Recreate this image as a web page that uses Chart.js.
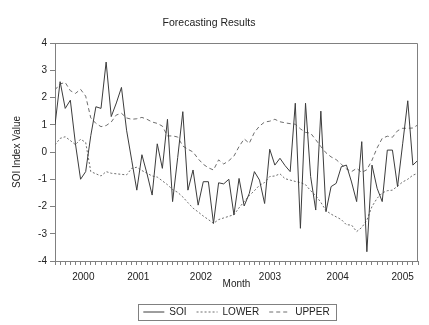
<!DOCTYPE html>
<html><head><meta charset="utf-8">
<script src="https://cdn.jsdelivr.net/npm/chart.js@4/dist/chart.umd.min.js"></script>
<style>html,body{margin:0;padding:0;background:#fff;}canvas{display:block;}</style>
</head><body>
<canvas id="c" width="429" height="325"></canvas>
<script>
// Monthly observations (index 0 = first month shown)
const soi = [1.0, 2.58, 1.6, 1.9, 0.3, -1.0, -0.72, 0.6, 1.66, 1.6,
  3.3, 1.3, 1.8, 2.37, 0.8, -0.3, -1.4, -0.1, -0.8, -1.58,
  0.3, -0.6, 1.2, -1.82, -0.2, 1.48, -1.4, -0.66, -1.95, -1.09,
  -1.09, -2.62, -1.13, -1.17, -1.0, -2.31, -0.97, -1.98, -1.52, -0.72,
  -1.03, -1.89, 0.1, -0.48, -0.23, -0.5, -0.72, 1.79, -2.8, 1.79,
  -0.9, -2.13, 1.5, -2.19, -1.27, -1.15, -0.54, -0.48, -1.1, -1.82,
  0.38, -3.66, -0.48, -1.33, -1.82, 0.07, 0.07, -1.27, 0.3, 1.88,
  -0.48, -0.3];
const lower = [0.26, 0.5, 0.56, 0.42, 0.27, 0.47, 0.35, -0.72, -0.8, -0.88,
  -0.72, -0.78, -0.8, -0.82, -0.84, -0.6, -0.56, -0.68, -0.78, -0.88,
  -0.92, -1.06, -1.2, -1.38, -1.48, -1.65, -1.86, -2.06, -2.2, -2.35,
  -2.48, -2.62, -2.48, -2.42, -2.36, -2.3, -2.05, -1.82, -1.6, -1.42,
  -1.22, -1.12, -0.9, -0.88, -0.8, -0.98, -1.03, -1.08, -1.12, -1.2,
  -1.42, -1.6, -1.85, -2.15, -2.28, -2.38, -2.48, -2.67, -2.68, -2.92,
  -2.77, -2.5, -2.0, -1.7, -1.5, -1.42, -1.4, -1.25, -1.1, -1.0,
  -0.85, -0.78];
const upper = [2.28, 2.5, 2.55, 2.25, 2.15, 2.3, 2.05, 1.25, 1.05, 0.93,
  0.97, 1.1, 1.36, 1.42, 1.25, 1.2, 1.22, 1.27, 1.2, 1.1,
  1.05, 0.95, 0.59, 0.59, 0.55, 0.22, 0.1, 0.0, -0.25, -0.45,
  -0.58, -0.66, -0.29, -0.44, -0.32, -0.15, 0.2, 0.48, 0.32, 0.72,
  0.95, 1.1, 1.13, 1.2, 1.11, 1.07, 1.04, 1.02, 0.85, 0.72,
  0.69, 0.45, 0.2, -0.03, -0.18, -0.28, -0.45, -0.62, -0.72, -0.6,
  -0.75, -0.65, -0.3, 0.15, 0.5, 0.58, 0.54, 0.78, 0.87, 0.87,
  0.88, 1.0];
const yearLabels = ['2000', '2001', '2002', '2003', '2004', '2005'];
const yearLabelAt = [5.54, 16.29, 28.55, 42.05, 55.3, 68.0]; // month index where each year label sits
const seriesNames = ['SOI', 'LOWER', 'UPPER'];

const FONT = "'Liberation Sans', Arial, sans-serif";
const AXIS = '#808080';
const TXT = '#222222';
const pts = arr => arr.map((v, i) => ({x: i, y: v}));
const last = soi.length - 1;

const bg = {id: 'bg', beforeDraw(c) { const x = c.ctx; x.save(); x.fillStyle = '#fff'; x.fillRect(0, 0, c.width, c.height); x.restore(); }};
const frame = {id: 'frame', afterDraw(c) {
  const {ctx, chartArea: a} = c; ctx.save(); ctx.strokeStyle = AXIS; ctx.lineWidth = 1; ctx.setLineDash([]);
  const t = Math.round(a.top) + 0.5, r = Math.round(a.right) - 0.5;
  ctx.beginPath(); ctx.moveTo(Math.round(a.left), t); ctx.lineTo(r, t); ctx.lineTo(r, Math.round(a.bottom)); ctx.stroke(); ctx.restore();
}};
const legendBox = {id: 'legendBox', afterDraw(c) {
  const lg = c.legend; if (!lg || !lg.legendHitBoxes || !lg.legendHitBoxes.length) return;
  const hb = lg.legendHitBoxes;
  const l = Math.min(...hb.map(h => h.left)), r = Math.max(...hb.map(h => h.left + h.width));
  const t = Math.min(...hb.map(h => h.top)), b = Math.max(...hb.map(h => h.top + h.height));
  const ctx = c.ctx; ctx.save(); ctx.strokeStyle = AXIS; ctx.lineWidth = 1; ctx.setLineDash([]);
  ctx.strokeRect(Math.round(l - 5) + 0.5, Math.round(t - 3) + 0.5, Math.round(r - l + 12), Math.round(b - t + 6));
  ctx.restore();
}};

new Chart(document.getElementById('c'), {
  type: 'line',
  data: {datasets: [
    {label: seriesNames[0], data: pts(soi), borderColor: '#3c3c3c', borderWidth: 1, pointRadius: 0, fill: false, tension: 0},
    {label: seriesNames[1], data: pts(lower), borderColor: '#6e6e6e', borderWidth: 1, borderDash: [2, 2], pointRadius: 0, fill: false, tension: 0},
    {label: seriesNames[2], data: pts(upper), borderColor: '#6e6e6e', borderWidth: 1, borderDash: [4, 3], pointRadius: 0, fill: false, tension: 0}
  ]},
  options: {
    responsive: false, animation: false, devicePixelRatio: 1,
    layout: {padding: {left: 0, right: 11, top: 0, bottom: -2}},
    plugins: {
      title: {display: true, text: 'Forecasting Results', color: TXT, font: {family: FONT, size: 10.5, weight: 'normal'}, padding: {top: 16.9, bottom: 13.5}},
      legend: {display: true, position: 'bottom', fullSize: false,
        labels: {usePointStyle: true, pointStyle: 'line', pointStyleWidth: 21, boxHeight: 10, padding: 10, color: TXT, font: {family: FONT, size: 10},
          generateLabels: chart => Chart.defaults.plugins.legend.labels.generateLabels(chart).map(item => {
            const ds = chart.data.datasets[item.datasetIndex];
            item.lineDash = ds.borderDash || [];
            item.strokeStyle = ds.borderColor;
            item.lineWidth = 1;
            return item;
          })}},
      tooltip: {enabled: false}
    },
    scales: {
      x: {type: 'linear', position: 'bottom', weight: 0, min: 0, max: last,
        afterBuildTicks: s => { s.ticks = soi.map((_, i) => ({value: i})); },
        ticks: {display: false},
        grid: {display: true, drawOnChartArea: false, drawTicks: true, tickLength: 4, color: AXIS},
        border: {display: true, color: AXIS},
        afterFit: s => { s.height = 4; }},
      x2: {type: 'linear', position: 'bottom', weight: 1, min: 0, max: last,
        afterBuildTicks: s => { s.ticks = yearLabelAt.map(v => ({value: v})); },
        ticks: {display: true, autoSkip: false, maxRotation: 0, minRotation: 0, padding: 6, color: TXT, font: {family: FONT, size: 10},
          callback: (v, i) => yearLabels[i]},
        grid: {display: false, drawTicks: false},
        border: {display: false},
        title: {display: true, text: 'Month', color: TXT, font: {family: FONT, size: 10}, padding: {top: 0, bottom: 6.5}},
        afterFit: s => { s.height = 32; }},
      y: {type: 'linear', position: 'left', min: -4, max: 4,
        ticks: {stepSize: 1, padding: 3, color: TXT, font: {family: FONT, size: 10}},
        grid: {display: true, drawOnChartArea: false, drawTicks: true, tickLength: 5, color: AXIS},
        border: {display: true, color: AXIS},
        title: {display: true, text: 'SOI Index Value', color: TXT, font: {family: FONT, size: 10}, padding: {top: 11, bottom: 0}},
        afterFit: s => { s.width = 55; }}
    }
  },
  plugins: [bg, frame, legendBox]
});
</script>
</body></html>
